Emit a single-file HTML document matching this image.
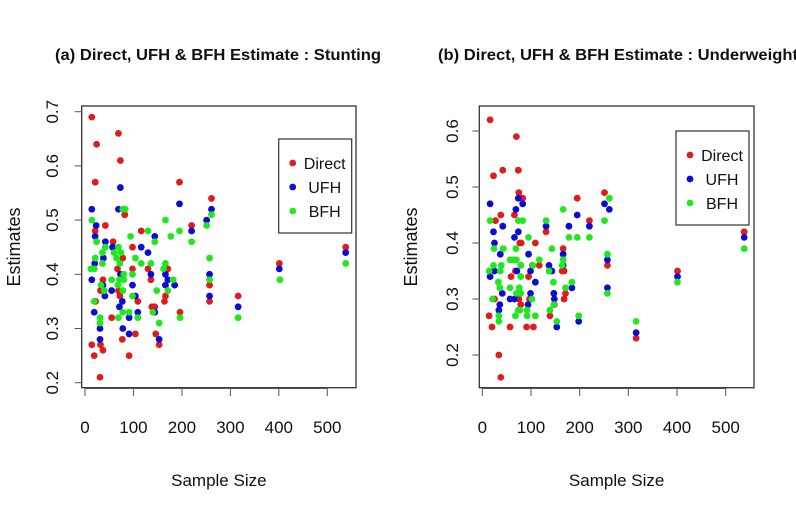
<!DOCTYPE html>
<html><head><meta charset="utf-8">
<style>
html,body{margin:0;padding:0;background:#fff;}
svg{display:block;font-family:"Liberation Sans",sans-serif;}
</style></head>
<body>
<svg id="chart" width="796" height="521" viewBox="0 0 796 521" xmlns="http://www.w3.org/2000/svg">
<rect width="796" height="521" fill="#fff"/>
</svg>
<script>
// ---- Panel (a) Stunting data ----
const aDirectX=[14,24,21,69,73,82,42,21,58,98,116,195,220,261,78,67,98,130,136,171,37,32,69,72,109,22,55,138,144,166,164,196,257,257,316,401,538,14,19,32,37,31,77,91,104,146,153];
const aDirectY=[0.69,0.64,0.57,0.66,0.61,0.51,0.49,0.48,0.46,0.45,0.48,0.57,0.49,0.54,0.43,0.41,0.41,0.41,0.39,0.41,0.39,0.37,0.37,0.36,0.35,0.35,0.32,0.34,0.34,0.36,0.35,0.33,0.38,0.35,0.36,0.42,0.45,0.27,0.25,0.27,0.26,0.21,0.28,0.25,0.29,0.29,0.27];
const aUfhX=[14,23,21,20,14,19,42,38,37,41,31,31,73,69,57,55,71,77,78,73,91,91,98,104,109,116,130,136,144,144,153,166,166,171,185,195,220,251,261,257,257,316,401,538];
const aUfhY=[0.52,0.49,0.47,0.42,0.39,0.33,0.46,0.43,0.38,0.36,0.30,0.28,0.56,0.52,0.45,0.37,0.34,0.35,0.30,0.40,0.32,0.29,0.38,0.36,0.33,0.45,0.44,0.40,0.47,0.33,0.28,0.40,0.38,0.39,0.38,0.53,0.48,0.50,0.52,0.40,0.36,0.34,0.41,0.44];
const aBfhX=[14,12,19,24,21,19,31,31,33,36,36,42,40,55,60,65,69,74,72,71,68,69,78,78,80,80,78,83,94,91,98,98,104,109,116,130,136,140,144,148,153,166,166,162,171,177,182,195,196,220,251,257,257,261,316,402,538];
const aBfhY=[0.50,0.41,0.41,0.46,0.43,0.35,0.32,0.31,0.38,0.44,0.42,0.45,0.37,0.39,0.44,0.43,0.45,0.44,0.42,0.39,0.38,0.32,0.33,0.37,0.39,0.40,0.52,0.52,0.47,0.33,0.40,0.36,0.43,0.32,0.42,0.48,0.42,0.33,0.46,0.37,0.31,0.50,0.42,0.41,0.37,0.47,0.39,0.48,0.32,0.46,0.49,0.43,0.39,0.51,0.32,0.39,0.42];
// ---- Panel (b) Underweight data ----
const bDirectX=[16,23,42,70,74,75,83,38,27,66,77,80,109,131,195,220,251,257,166,164,168,59,95,103,117,68,75,79,97,147,148,168,171,14,20,25,57,91,105,139,34,38,316,401,538];
const bDirectY=[0.62,0.52,0.53,0.59,0.53,0.49,0.48,0.45,0.44,0.45,0.40,0.40,0.40,0.42,0.48,0.44,0.49,0.36,0.39,0.35,0.35,0.34,0.34,0.36,0.36,0.35,0.30,0.29,0.30,0.31,0.29,0.30,0.31,0.27,0.25,0.30,0.25,0.25,0.25,0.27,0.20,0.16,0.23,0.35,0.42];
const bUfhX=[16,23,25,16,25,42,37,41,36,34,69,74,83,74,66,57,66,71,79,95,99,99,94,109,131,137,143,147,148,153,166,166,178,184,195,198,220,251,257,257,261,316,401,538];
const bUfhY=[0.47,0.42,0.40,0.34,0.35,0.43,0.38,0.31,0.29,0.28,0.46,0.48,0.47,0.42,0.41,0.30,0.30,0.35,0.36,0.38,0.35,0.31,0.29,0.33,0.43,0.36,0.35,0.31,0.30,0.25,0.38,0.36,0.43,0.32,0.45,0.26,0.43,0.47,0.37,0.32,0.46,0.24,0.34,0.41];
const bBfhX=[16,14,24,23,21,33,36,34,34,43,39,37,57,57,64,69,70,74,83,79,79,76,70,79,68,74,77,95,92,92,102,104,109,117,131,137,139,143,146,147,153,164,166,166,171,178,184,195,198,220,251,257,257,261,316,401,538];
const bBfhY=[0.44,0.35,0.39,0.36,0.30,0.33,0.32,0.27,0.26,0.39,0.36,0.35,0.37,0.32,0.37,0.39,0.37,0.44,0.44,0.36,0.34,0.32,0.31,0.31,0.27,0.28,0.28,0.41,0.28,0.27,0.30,0.36,0.27,0.37,0.44,0.35,0.28,0.39,0.33,0.29,0.26,0.36,0.37,0.46,0.32,0.41,0.33,0.41,0.27,0.41,0.44,0.38,0.31,0.48,0.26,0.33,0.39];
const xTicks=[0,100,200,300,400,500];
const aYTicks=[0.2,0.3,0.4,0.5,0.6,0.7];
const bYTicks=[0.2,0.3,0.4,0.5,0.6];
const seriesNames=["Direct","UFH","BFH"];
const seriesColors=["#e01b1b","#0b0bd6","#1fe81f"];

const NS="http://www.w3.org/2000/svg";
const svg=document.getElementById('chart');
function mk(tag,attrs,parent){const e=document.createElementNS(NS,tag);for(const k in attrs)e.setAttribute(k,attrs[k]);(parent||svg).appendChild(e);return e;}

function panel(p){
  const g=mk('g',{});
  
  
  const sx=v=>p.x0+(v-0)*(p.x500-p.x0)/500;
  const sy=v=>p.yA+(v-p.vA)*(p.yB-p.yA)/(p.vB-p.vA);
  const t=mk('text',{x:p.titleX,y:60,'font-size':16,'font-weight':'bold',textLength:p.titleLen,lengthAdjust:'spacingAndGlyphs',fill:'#111'},g);
  t.textContent=p.title;
  
  
  const box=mk('rect',{x:p.bx0,y:106,width:p.bx1-p.bx0,height:281.7,fill:'none',stroke:'#333','stroke-width':1.3},g);
  
  
  // x axis
  const xa=mk('g',{},g);
  
  
  mk('line',{x1:sx(xTicks[0]),x2:sx(xTicks[xTicks.length-1]),y1:388.5,y2:388.5,stroke:'#555','stroke-width':1},xa);
  xTicks.forEach(v=>{
    mk('line',{x1:sx(v),x2:sx(v),y1:388.5,y2:396,stroke:'#555','stroke-width':1},xa);
    const tl=mk('text',{x:sx(v),y:433,'font-size':17,'text-anchor':'middle',fill:'#111'},xa);
    tl.textContent=v;
    
    
  });
  const xl=mk('text',{x:(p.bx0+p.bx1)/2,y:486,'font-size':17,'text-anchor':'middle',fill:'#111'},g);
  xl.textContent='Sample Size';
  
  
  // y axis
  const ya=mk('g',{},g);
  
  
  p.yTicks.forEach(v=>{
    mk('line',{x1:p.bx0-7,x2:p.bx0,y1:sy(v),y2:sy(v),stroke:'#555','stroke-width':1},ya);
    const tl=mk('text',{x:p.ytx,y:sy(v),'font-size':17,'text-anchor':'middle',fill:'#111',transform:`rotate(-90 ${p.ytx} ${sy(v)})`,dy:6},ya);
    tl.textContent=v.toFixed(1);
    
    
  });
  const yl=mk('text',{x:p.ylx,y:247,'font-size':18,'text-anchor':'middle',fill:'#111',transform:`rotate(-90 ${p.ylx} 247)`,dy:6},g);
  yl.textContent='Estimates';
  
  
  // points
  p.series.forEach((s,si)=>{
    const sg=mk('g',{},g);
    
    
    s[0].forEach((xv,i)=>{
      const c=mk('circle',{cx:sx(xv),cy:sy(s[1][i]),r:3.4,fill:seriesColors[si]},sg);
      
      
    });
  });
  // legend
  const lg=mk('g',{},g);
  
  
  mk('rect',{x:p.lx,y:p.ly,width:73,height:94,fill:'#fff',stroke:'#333','stroke-width':1.2},lg);
  seriesNames.forEach((n,i)=>{
    const e=mk('g',{},lg);
    
    
    mk('circle',{cx:p.lx+14,cy:p.ly+24+i*24,r:3.4,fill:seriesColors[i]},e);
    const tx=mk('text',{x:p.lx+46,y:p.ly+24+i*24,dy:6,'font-size':16,'text-anchor':'middle',fill:'#111'},e);
    tx.textContent=n;
  });
}

panel({key:'stunting',title:'(a) Direct, UFH & BFH Estimate : Stunting',titleX:55,titleLen:326,
  x0:85,x500:327.3,bx0:81.7,bx1:356,yA:111.7,vA:0.7,yB:382.7,vB:0.2,yTicks:aYTicks,ytx:52,ylx:14,
  lx:278.7,ly:139,series:[[aDirectX,aDirectY],[aUfhX,aUfhY],[aBfhX,aBfhY]]});
panel({key:'underweight',title:'(b) Direct, UFH & BFH Estimate : Underweight',titleX:438,titleLen:360,
  x0:482.3,x500:725.7,bx0:479.3,bx1:754,yA:131,vA:0.6,yB:355,vB:0.2,yTicks:bYTicks,ytx:452,ylx:411,
  lx:676,ly:131,series:[[bDirectX,bDirectY],[bUfhX,bUfhY],[bBfhX,bBfhY]]});
</script>
</body></html>
